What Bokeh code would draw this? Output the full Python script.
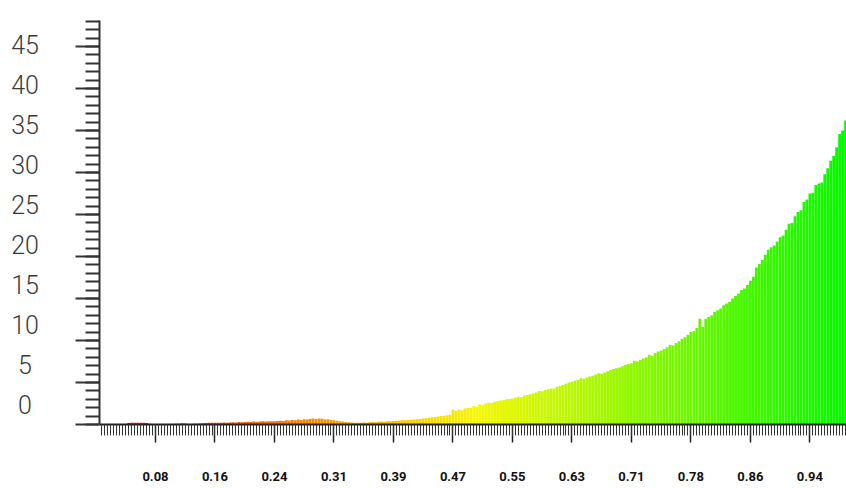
import colorsys
from bokeh.plotting import figure
from bokeh.layouts import row
from bokeh.models import Range1d, FixedTicker, ColumnDataSource
from bokeh.transform import linear_cmap
from bokeh.core.properties import value
from bokeh.embed import file_html
from bokeh.resources import INLINE

# ---- data -------------------------------------------------------------
bins = list(range(256))
counts = [
    0, 0, 0, 0, 0, 0, 0, 0, 0, 0,
    0.05, 0.18, 0.22, 0.2, 0.22, 0.2, 0.22, 0.18, 0.1, 0.05,
    0.02, 0.02, 0.03, 0.02, 0.03, 0.05, 0.05, 0.08, 0.1, 0.15,
    0.12, 0.05, 0.06, 0.08, 0.1, 0.12, 0.15, 0.18, 0.2, 0.2,
    0.22, 0.2, 0.22, 0.25, 0.22, 0.25, 0.28, 0.25, 0.3, 0.28,
    0.3, 0.32, 0.3, 0.35, 0.33, 0.35, 0.38, 0.35, 0.4, 0.38,
    0.4, 0.42, 0.45, 0.42, 0.5, 0.48, 0.55, 0.5, 0.6, 0.55,
    0.62, 0.6, 0.65, 0.7, 0.65, 0.72, 0.68, 0.6, 0.62, 0.55,
    0.5, 0.45, 0.4, 0.35, 0.3, 0.28, 0.25, 0.22, 0.2, 0.22,
    0.25, 0.22, 0.28, 0.3, 0.28, 0.32, 0.35, 0.33, 0.38, 0.4,
    0.42, 0.45, 0.48, 0.5, 0.52, 0.55, 0.58, 0.6, 0.62, 0.65,
    0.7, 0.75, 0.8, 0.85, 0.9, 0.95, 1.0, 1.05, 1.1, 1.15,
    1.75, 1.6, 1.8, 1.7, 1.9, 2.0, 1.95, 2.2, 2.1, 2.4,
    2.3, 2.5, 2.6, 2.55, 2.7, 2.8, 2.85, 2.9, 3.0, 3.05,
    3.1, 3.2, 3.3, 3.25, 3.45, 3.5, 3.6, 3.7, 3.8, 4.0,
    3.95, 4.1, 4.2, 4.3, 4.25, 4.5, 4.6, 4.7, 4.85, 5.0,
    5.1, 5.2, 5.3, 5.5, 5.45, 5.6, 5.7, 5.8, 5.95, 6.1,
    6.05, 6.2, 6.35, 6.5, 6.6, 6.7, 6.8, 6.95, 7.1, 7.2,
    7.3, 7.6, 7.5, 7.7, 7.85, 8.0, 8.3, 8.2, 8.5, 8.7,
    8.8, 9.0, 9.2, 9.5, 9.4, 9.7, 9.9, 10.2, 10.4, 10.7,
    11.0, 11.1, 11.5, 12.6, 11.6, 12.6, 12.8, 13.0, 13.4, 13.6,
    13.8, 14.2, 14.4, 14.6, 15.0, 15.3, 15.6, 16.0, 16.2, 16.6,
    17.1, 17.6, 18.7, 19.1, 19.6, 20.2, 20.8, 21.1, 21.3, 21.8,
    22.3, 22.5, 23.2, 23.9, 24.0, 24.8, 25.3, 25.5, 26.5, 26.8,
    27.5, 27.6, 28.5, 28.7, 28.8, 29.8, 30.5, 31.4, 32.0, 33.0,
    34.6, 35.0, 36.2, 37.0, 38.0, 39.0,
]

x_tick_bins = [20, 40, 60, 80, 100, 120, 140, 160, 180, 200, 220, 240]
x_tick_labels = ["0.08", "0.16", "0.24", "0.31", "0.39", "0.47",
                 "0.55", "0.63", "0.71", "0.78", "0.86", "0.94"]
y_tick_values = [0, 5, 10, 15, 20, 25, 30, 35, 40, 45]
y_tick_labels = ["0", "5", "10", "15", "20", "25", "30", "35", "40", "45"]

# ---- styling ----------------------------------------------------------
Y_TOP = 48.1          # top of the value axis
PX_PER_UNIT = 404 / Y_TOP
LABEL_SHIFT = 2.5     # the original draws its value labels above the ticks

palette = []
for k in range(256):
    r, g, b = colorsys.hsv_to_rgb((k / 255.0) * 120.0 / 360.0, 1.0, 0.97)
    palette.append("#%02x%02x%02x" % (int(r * 255), int(g * 255), int(b * 255)))

src = ColumnDataSource(dict(bin=bins, count=counts))

# main histogram
p = figure(width=786, height=488, output_backend="svg", toolbar_location=None,
           x_range=Range1d(1.18, 252.3), y_range=Range1d(0, Y_TOP),
           min_border_left=39, min_border_right=0, min_border_top=20,
           min_border_bottom=64)
p.outline_line_color = None
p.xgrid.visible = False
p.ygrid.visible = False

p.vbar(x="bin", top="count", width=0.96, source=src, line_color=None,
       fill_color=linear_cmap("bin", palette, 0, 255))

ax = p.xaxis[0]
ax.ticker = FixedTicker(ticks=x_tick_bins, minor_ticks=bins[1:])
ax.major_label_overrides = {t: l for t, l in zip(x_tick_bins, x_tick_labels)}
ax.axis_line_color = "#222222"
ax.axis_line_width = 2
ax.major_tick_in = 0
ax.major_tick_out = 18
ax.minor_tick_in = 0
ax.minor_tick_out = 11
ax.major_tick_line_color = "#222222"
ax.major_tick_line_width = 1.5
ax.minor_tick_line_color = "#333333"
ax.minor_tick_line_width = 1
ax.major_label_standoff = 29
ax.major_label_text_font = "Roboto"
ax.major_label_text_font_style = "bold"
ax.major_label_text_font_size = "13px"
ax.major_label_text_color = "#111111"

ay = p.yaxis[0]
ay.ticker = FixedTicker(ticks=y_tick_values, minor_ticks=list(range(0, 49)))
ay.major_label_overrides = {t: "" for t in y_tick_values}
ay.axis_line_color = "#333333"
ay.axis_line_width = 2
ay.major_tick_in = 0
ay.major_tick_out = 24
ay.minor_tick_in = 0
ay.minor_tick_out = 14
ay.major_tick_line_color = "#333333"
ay.major_tick_line_width = 2
ay.minor_tick_line_color = "#333333"
ay.minor_tick_line_width = 2

# narrow strip to the left holding the value labels (same vertical scale)
lp = figure(width=60, height=488, output_backend="svg", toolbar_location=None,
            x_range=Range1d(-24.5, 35.5),
            y_range=Range1d(0, Y_TOP + 20 / PX_PER_UNIT),
            min_border_left=0, min_border_right=0, min_border_top=0,
            min_border_bottom=64, x_axis_type=None, y_axis_type=None)
lp.outline_line_color = None
lp.grid.visible = False
lab_src = ColumnDataSource(dict(
    x=[0] * len(y_tick_values),
    y=[v + LABEL_SHIFT for v in y_tick_values],
    text=y_tick_labels,
))
lp.text(x="x", y="y", text="text", source=lab_src,
        text_align="center", text_baseline="middle",
        text_font=value("Roboto Light, Roboto, sans-serif"),
        text_font_size="25px", text_color="#3a3a3a")

layout = row(lp, p, spacing=0)
open("out.html", "w").write(file_html(layout, INLINE))
